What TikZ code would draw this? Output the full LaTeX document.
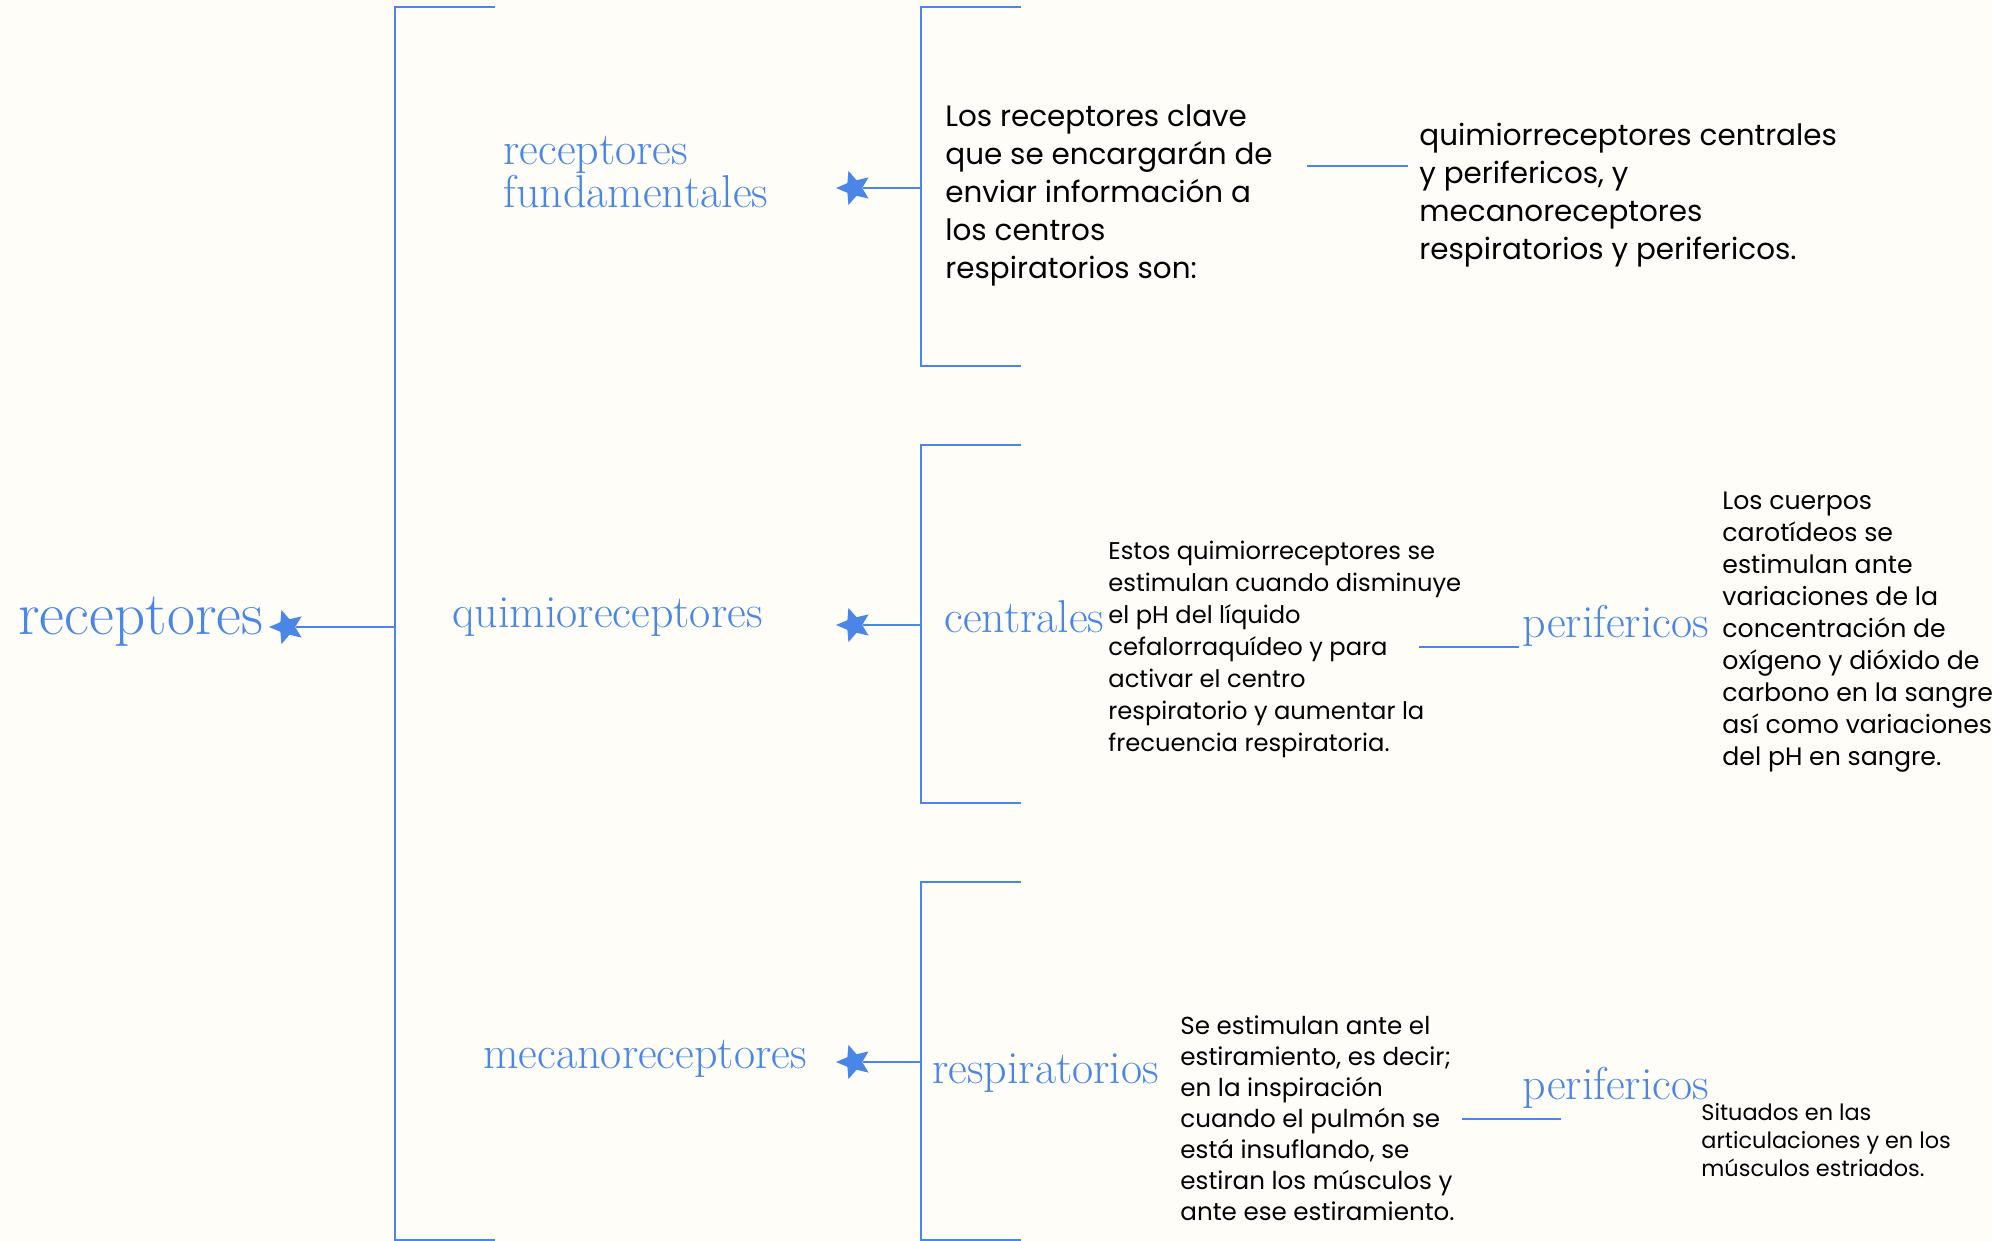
\documentclass[tikz,border=0pt]{standalone}
\usepackage{fontspec}
\usepackage{tikz}
\usetikzlibrary{shapes.geometric}
\newfontfamily\bodyfont{Poppins}
\definecolor{mapblue}{HTML}{4A86E8}
\definecolor{paper}{HTML}{FEFDF7}
\newcommand\tightlines{\lineskiplimit=-20pt\relax}
\tikzset{
  topic/.style={text=mapblue, anchor=west, align=left, font=\fontsize{23}{21.5}\selectfont\tightlines},
  note/.style={anchor=west, align=left, font=\bodyfont\fontsize{14.7}{19}\selectfont},
  link/.style={mapblue, line width=1.1pt},
  bluestar/.style={star, star points=5, star point ratio=2.2, minimum size=18pt, fill=mapblue, rotate=90},
}
\begin{document}
\begin{tikzpicture}[x=0.5pt,y=-0.5pt]
\tikzstyle{every node}+=[inner sep=0pt]
\fill[paper] (0,0) rectangle (1992,1241);
\useasboundingbox (0,0) rectangle (1992,1241);
% brackets
\draw[link] (495,7) -- (395,7) -- (395,1240) -- (495,1240);
\draw[link] (1021,7) -- (921,7) -- (921,366) -- (1021,366);
\draw[link] (1021,445) -- (921,445) -- (921,803) -- (1021,803);
\draw[link] (1021,882) -- (921,882) -- (921,1240) -- (1021,1240);
% root
\node[topic, font=\fontsize{30.5}{32}\selectfont] (root) at (18,622) {receptores};
\node[bluestar] (s0) at (287,627) {};
\coordinate (b0) at (395,627);
\draw[link] (s0) -- (b0);
% first level
\node[topic] (fund) at (503,172) {receptores\\fundamentales};
\node[topic] (quim) at (452,617) {quimioreceptores};
\node[topic] (meca) at (483,1059) {mecanoreceptores};
\node[bluestar] (s1) at (854,188) {};
\node[bluestar] (s2) at (854,625) {};
\node[bluestar] (s3) at (854,1062) {};
\coordinate (b1) at (921,188);
\coordinate (b2) at (921,625);
\coordinate (b3) at (921,1062);
\draw[link] (s1) -- (b1);
\draw[link] (s2) -- (b2);
\draw[link] (s3) -- (b3);
% receptores fundamentales
\node[note] (clave) at (945,195) {Los receptores clave\\que se encargar\'an de\\enviar informaci\'on a\\los centros\\respiratorios son:};
\node[note] (tipos) at (1419,195) {quimiorreceptores centrales\\y perifericos, y\\mecanoreceptores\\respiratorios y perifericos.};
\coordinate (l1a) at (1307,166);
\coordinate (l1b) at (1408,166);
\draw[link] (l1a) -- (l1b);
% quimioreceptores
\node[topic] (cent) at (944,617) {centrales};
\node[note, font=\bodyfont\fontsize{12.1}{16}\selectfont] (centtxt) at (1108,649) {Estos quimiorreceptores se\\estimulan cuando disminuye\\el pH del l\'iquido\\cefalorraqu\'ideo y para\\activar el centro\\respiratorio y aumentar la\\frecuencia respiratoria.};
\coordinate (l2a) at (1419,647);
\coordinate (l2b) at (1519,647);
\draw[link] (l2a) -- (l2b);
\node[topic] (peri1) at (1522,626) {perifericos};
\node[note, font=\bodyfont\fontsize{12.6}{16}\selectfont] (peritxt1) at (1722,632) {Los cuerpos\\carot\'ideos se\\estimulan ante\\variaciones de la\\concentraci\'on de\\ox\'igeno y di\'oxido de\\carbono en la sangre,\\as\'i como variaciones\\del pH en sangre.};
% mecanoreceptores
\node[topic] (resp) at (932,1073) {respiratorios};
\node[note, font=\bodyfont\fontsize{12.3}{15.5}\selectfont] (resptxt) at (1180,1118) {Se estimulan ante el\\estiramiento, es decir;\\en la inspiraci\'on\\cuando el pulm\'on se\\est\'a insuflando, se\\estiran los m\'usculos y\\ante ese estiramiento.};
\coordinate (l3a) at (1462,1119);
\coordinate (l3b) at (1561,1119);
\draw[link] (l3a) -- (l3b);
\node[topic] (peri2) at (1522,1088) {perifericos};
\node[note, font=\bodyfont\fontsize{11.2}{14}\selectfont] (peritxt2) at (1701,1140) {Situados en las\\articulaciones y en los\\m\'usculos estriados.};
\end{tikzpicture}
\end{document}
